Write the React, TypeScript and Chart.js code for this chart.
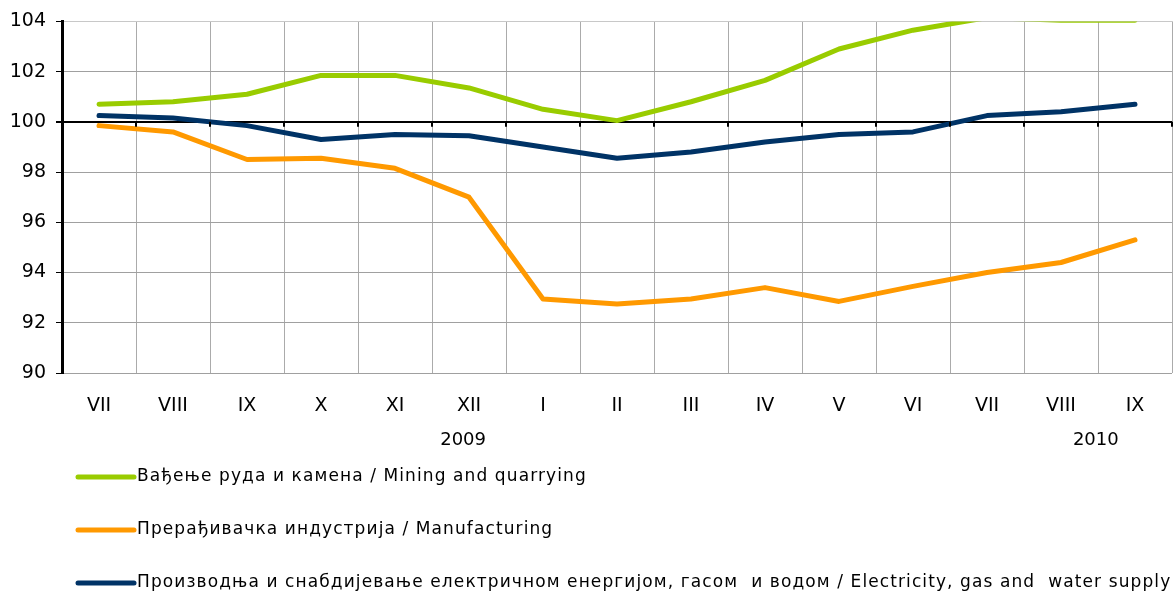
import React, { useEffect, useRef } from 'react';
import { Chart, registerables } from 'chart.js';

Chart.register(...registerables);

const months = ['VII', 'VIII', 'IX', 'X', 'XI', 'XII', 'I', 'II', 'III', 'IV', 'V', 'VI', 'VII', 'VIII', 'IX'];
const mining = [100.7, 100.8, 101.1, 101.85, 101.85, 101.35, 100.5, 100.05, 100.8, 101.65, 102.9, 103.65, 104.15, 104.05, 104.05];
const manufacturing = [99.85, 99.6, 98.5, 98.55, 98.15, 97.0, 92.95, 92.75, 92.95, 93.4, 92.85, 93.45, 94.0, 94.4, 95.3];
const electricity = [100.25, 100.15, 99.85, 99.3, 99.5, 99.45, 99.0, 98.55, 98.8, 99.2, 99.5, 99.6, 100.25, 100.4, 100.7];
const seriesLabels = [
  'Вађење руда и камена / Mining and quarrying',
  'Прерађивачка индустрија / Manufacturing',
  'Производња и снабдијевање електричном енергијом, гасом  и водом / Electricity, gas and  water supply',
];
const seriesColors = ['#99cc00', '#ff9900', '#003366'];
const yearLabels = ['2009', '2010'];
const yearAt = [4.92, 13.47];
const yMin = 90;
const yMax = 104;
const yStep = 2;
const baseLine = 100;

const FONT = '"DejaVu Sans", sans-serif';

const extras = {
  id: 'extras',
  afterDatasetsDraw(chart: any) {
    const ctx = chart.ctx;
    const xs = chart.scales.x;
    const ys = chart.scales.y;
    const area = chart.chartArea;
    const y0 = ys.getPixelForValue(baseLine);
    ctx.save();
    ctx.strokeStyle = '#000';
    ctx.lineWidth = 2;
    for (let i = 0; i <= months.length; i++) {
      const x = Math.round(xs.getPixelForValue(i - 0.5));
      ctx.beginPath();
      ctx.moveTo(x, y0);
      ctx.lineTo(x, y0 + 5);
      ctx.stroke();
    }
    ctx.fillStyle = '#000';
    ctx.font = '18px ' + FONT;
    ctx.textAlign = 'center';
    ctx.textBaseline = 'middle';
    yearLabels.forEach((t, i) => {
      ctx.fillText(t, xs.getPixelForValue(yearAt[i]), area.bottom + 67);
    });
    ctx.font = '17px ' + FONT;
    ctx.textAlign = 'left';
    (ctx as any).letterSpacing = '1.1px';
    chart.data.datasets.forEach((ds: any, i: number) => {
      const ly = area.bottom + 104 + i * 53;
      ctx.strokeStyle = ds.borderColor;
      ctx.lineWidth = 5;
      ctx.lineCap = 'round';
      ctx.beginPath();
      ctx.moveTo(78, ly);
      ctx.lineTo(134, ly);
      ctx.stroke();
      ctx.fillStyle = '#000';
      ctx.fillText(ds.label, 137, ly);
    });
    (ctx as any).letterSpacing = '0px';
    ctx.restore();
  },
};

export default function App() {
  const ref = useRef<HTMLCanvasElement>(null);
  useEffect(() => {
    document.body.style.margin = '0';
    const seriesData = [mining, manufacturing, electricity];
    const chart = new Chart(ref.current!, {
      type: 'line',
      data: {
        labels: months,
        datasets: seriesData.map((d, i) => ({
          label: seriesLabels[i],
          data: d,
          borderColor: seriesColors[i],
          backgroundColor: seriesColors[i],
          borderWidth: 5,
          pointRadius: 0,
          tension: 0,
          borderCapStyle: 'round',
          borderJoinStyle: 'round',
          clip: 0,
        })),
      },
      options: {
        animation: false,
        responsive: false,
        layout: { padding: { top: 21, right: 1, left: 0, bottom: 0 } },
        plugins: { legend: { display: false }, tooltip: { enabled: false } },
        scales: {
          x: {
            offset: true,
            grid: { offset: true, color: '#ababab', lineWidth: 1, drawTicks: false },
            border: { display: false },
            ticks: { color: '#000', font: { family: FONT, size: 19 }, padding: 22, maxRotation: 0, autoSkip: false },
            afterFit: (s: any) => { s.height = 223; },
          },
          y: {
            min: yMin,
            max: yMax,
            ticks: { stepSize: yStep, color: '#000', font: { family: FONT, size: 19 }, padding: 10 },
            grid: {
              color: (c: any) => (c.tick && c.tick.value === baseLine ? '#000' : (c.tick && c.tick.value === yMax ? '#c8c8c8' : '#a0a0a0')),
              lineWidth: (c: any) => (c.tick && c.tick.value === baseLine ? 2 : 1),
              tickColor: '#000',
              tickLength: 6,
            },
            border: { color: '#000', width: 3 },
            afterFit: (s: any) => { s.width = 62; },
          },
        },
      },
      plugins: [extras],
    });
    return () => chart.destroy();
  }, []);
  return (
    <div style={{ width: 1173, height: 596, background: '#fff' }}>
      <canvas ref={ref} width={1173} height={596} />
    </div>
  );
}
